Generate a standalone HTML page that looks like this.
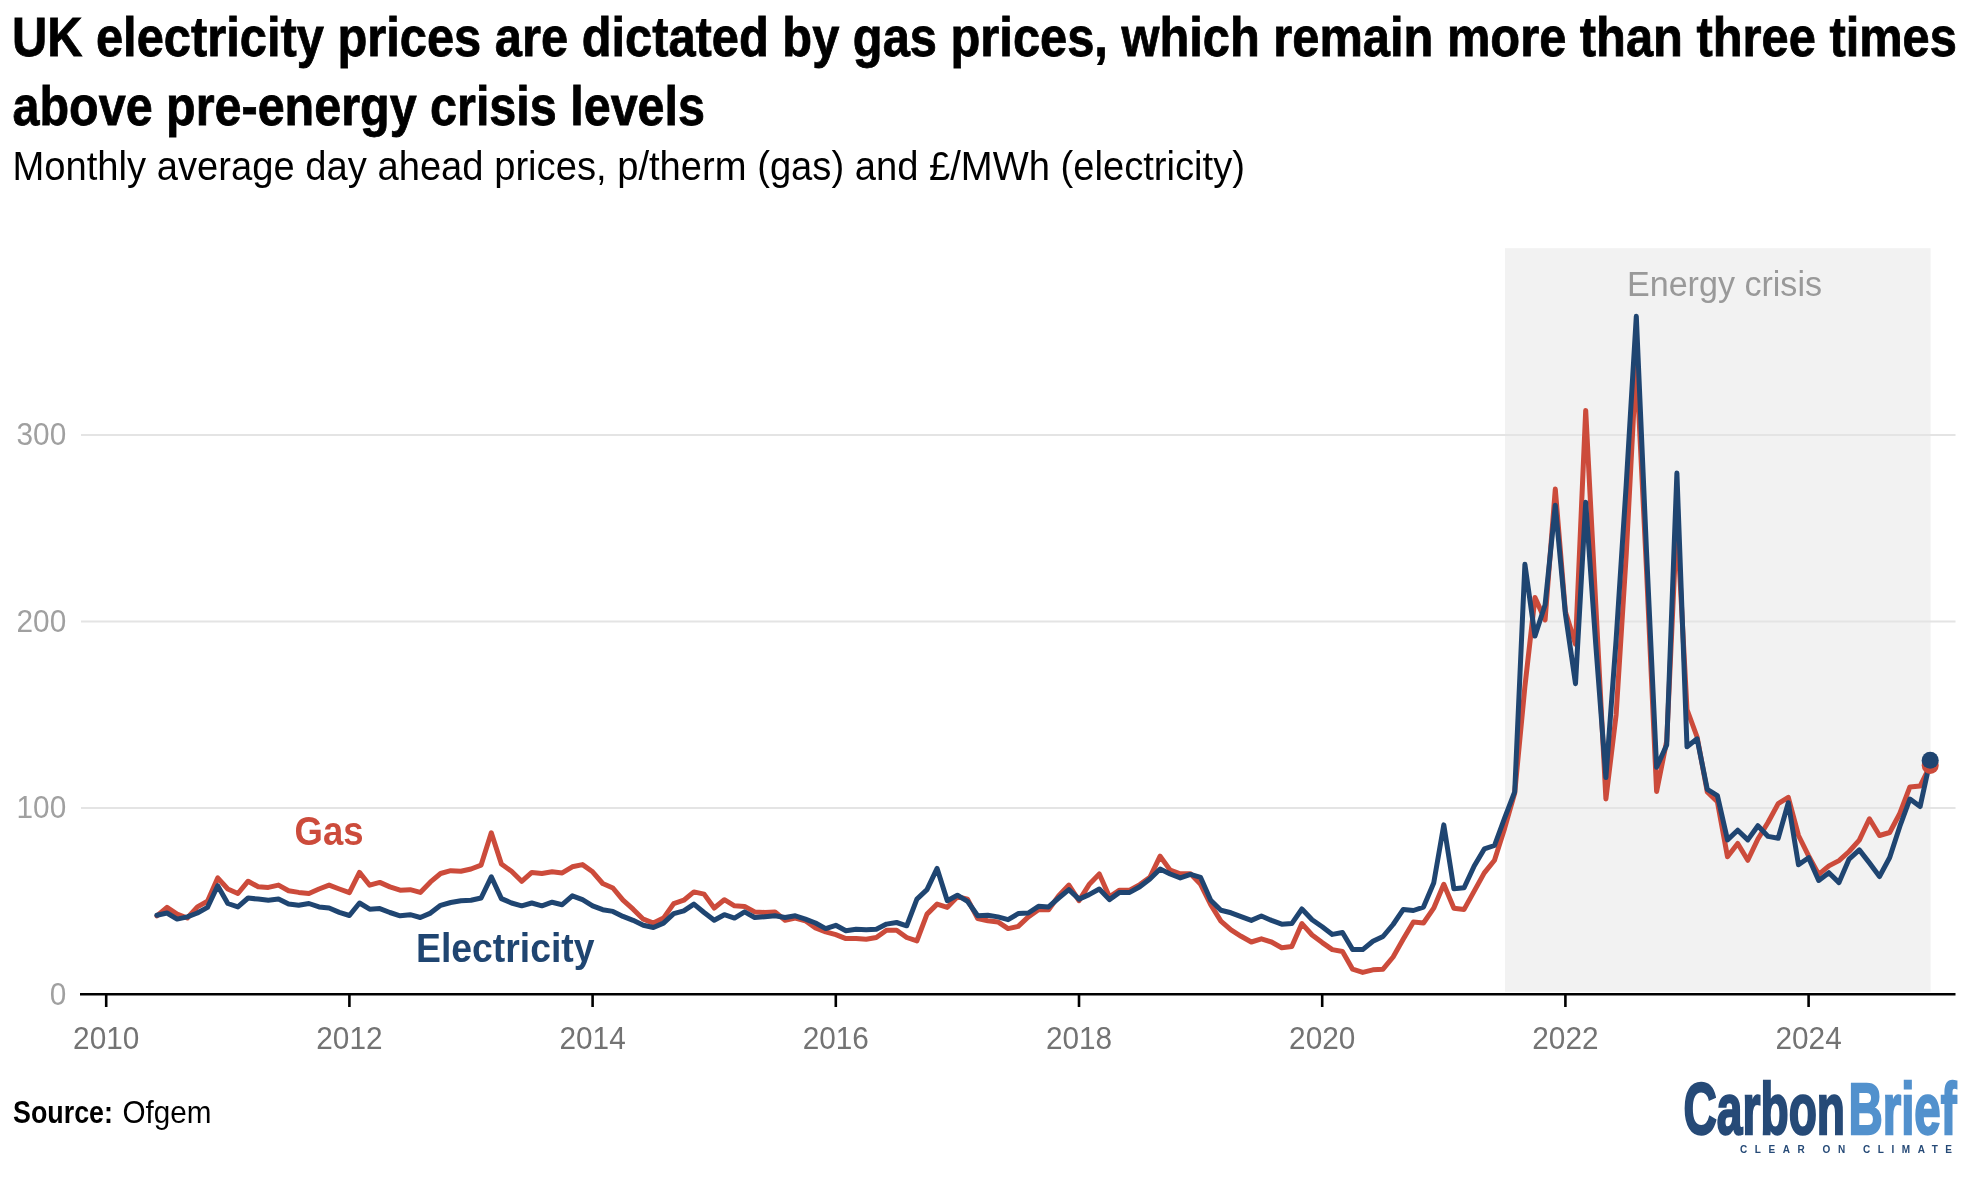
<!DOCTYPE html>
<html><head><meta charset="utf-8"><style>
html,body{margin:0;padding:0;background:#fff;}
body{width:1974px;height:1184px;overflow:hidden;}
svg{display:block;will-change:transform;}
text{font-family:"Liberation Sans", sans-serif;}
</style></head><body>
<svg width="1974" height="1184" viewBox="0 0 1974 1184">
<rect width="1974" height="1184" fill="#fff"/>
<text x="11.9" y="56.2" font-size="55" font-weight="bold" fill="#000" stroke="#000" stroke-width="0.8" textLength="1945" lengthAdjust="spacingAndGlyphs">UK electricity prices are dictated by gas prices, which remain more than three times</text>
<text x="12.5" y="124.5" font-size="55" font-weight="bold" fill="#000" stroke="#000" stroke-width="0.8" textLength="692.5" lengthAdjust="spacingAndGlyphs">above pre-energy crisis levels</text>
<text x="12.5" y="180" font-size="40" fill="#000" textLength="1232.5" lengthAdjust="spacingAndGlyphs">Monthly average day ahead prices, p/therm (gas) and £/MWh (electricity)</text>
<rect x="1505" y="248.2" width="425.6" height="743.6" fill="#f2f2f2"/>
<line x1="81" x2="1955.5" y1="434.9" y2="434.9" stroke="#e4e4e4" stroke-width="2"/>
<line x1="81" x2="1955.5" y1="621.4" y2="621.4" stroke="#e4e4e4" stroke-width="2"/>
<line x1="81" x2="1955.5" y1="807.9" y2="807.9" stroke="#e4e4e4" stroke-width="2"/>

<text x="1627" y="296.4" font-size="35.5" fill="#999" textLength="195" lengthAdjust="spacingAndGlyphs">Energy crisis</text>
<text x="66.2" y="445.2" text-anchor="end" font-size="32" fill="#a0a0a0" transform="translate(66.2 0) scale(0.93 1) translate(-66.2 0)">300</text>
<text x="66.2" y="631.7" text-anchor="end" font-size="32" fill="#a0a0a0" transform="translate(66.2 0) scale(0.93 1) translate(-66.2 0)">200</text>
<text x="66.2" y="818.2" text-anchor="end" font-size="32" fill="#a0a0a0" transform="translate(66.2 0) scale(0.93 1) translate(-66.2 0)">100</text>
<text x="66.2" y="1004.6" text-anchor="end" font-size="32" fill="#a0a0a0" transform="translate(66.2 0) scale(0.93 1) translate(-66.2 0)">0</text>

<path d="M156.9,915.8 L167.0,907.4 L177.1,914.1 L187.3,918.0 L197.4,906.9 L207.5,901.3 L217.7,877.9 L227.8,889.0 L237.9,893.5 L248.1,881.2 L258.2,886.8 L268.3,887.4 L278.5,885.1 L288.6,890.7 L298.7,892.4 L308.9,893.5 L319.0,889.0 L329.1,885.1 L339.3,889.0 L349.4,892.7 L359.5,872.4 L369.7,885.2 L379.8,882.4 L389.9,886.9 L400.1,890.2 L410.2,889.7 L420.3,892.4 L430.5,881.9 L440.6,873.5 L450.7,870.7 L460.9,871.3 L471.0,869.0 L481.1,865.1 L491.3,832.8 L501.4,864.0 L511.5,871.3 L521.7,881.3 L531.8,872.4 L541.9,873.5 L552.1,871.8 L562.2,872.9 L572.3,866.8 L582.5,864.6 L592.6,871.8 L602.7,883.5 L612.9,888.0 L623.0,900.2 L633.1,909.2 L643.3,919.2 L653.4,923.1 L663.5,918.1 L673.7,903.6 L683.8,900.2 L693.9,891.9 L704.1,894.1 L714.2,908.0 L724.3,899.7 L734.5,905.8 L744.6,906.4 L754.7,911.9 L764.9,912.5 L775.0,911.9 L785.1,920.2 L795.3,918.0 L805.4,920.8 L815.5,928.0 L825.7,931.9 L835.8,934.7 L845.9,938.6 L856.1,938.6 L866.2,939.2 L876.3,937.5 L886.5,930.3 L896.6,930.3 L906.7,937.5 L916.9,940.9 L927.0,914.1 L937.1,904.1 L947.3,907.4 L957.4,896.8 L967.5,899.1 L977.7,918.6 L987.8,920.8 L997.9,921.9 L1008.1,928.6 L1018.2,926.4 L1028.3,916.9 L1038.5,909.7 L1048.6,909.7 L1058.7,895.7 L1068.9,885.1 L1079.0,900.7 L1089.1,884.6 L1099.3,874.0 L1109.4,896.8 L1119.5,890.2 L1129.7,890.2 L1139.8,884.6 L1149.9,877.3 L1160.1,856.2 L1170.2,870.1 L1180.3,873.8 L1190.5,873.8 L1200.6,884.3 L1210.7,904.6 L1220.9,921.1 L1231.0,929.9 L1241.1,936.3 L1251.3,942.0 L1261.4,938.8 L1271.5,942.0 L1281.7,947.7 L1291.8,946.4 L1301.9,923.6 L1312.1,935.0 L1322.2,942.6 L1332.3,949.6 L1342.5,951.5 L1352.6,969.2 L1362.7,972.4 L1372.9,969.8 L1383.0,969.2 L1393.1,957.0 L1403.3,939.0 L1413.4,921.9 L1423.5,923.0 L1433.7,908.2 L1443.8,884.3 L1453.9,908.2 L1464.1,909.4 L1474.2,891.1 L1484.3,872.9 L1494.5,860.3 L1504.6,828.4 L1514.7,793.0 L1524.9,686.6 L1535.0,597.6 L1545.1,619.9 L1555.3,489.1 L1565.4,611.8 L1575.5,644.2 L1585.7,410.4 L1595.8,605.0 L1605.9,798.9 L1616.1,715.0 L1626.2,555.0 L1636.3,362.0 L1646.5,570.0 L1656.6,791.5 L1666.7,741.0 L1676.9,520.0 L1687.0,709.5 L1697.1,737.0 L1707.3,792.0 L1717.4,801.8 L1727.5,856.8 L1737.7,843.5 L1747.8,860.3 L1757.9,839.0 L1768.1,822.2 L1778.2,803.6 L1788.3,797.4 L1798.5,835.5 L1808.6,855.9 L1818.7,874.4 L1828.9,865.9 L1839.0,860.6 L1849.1,851.5 L1859.3,840.1 L1869.4,818.8 L1879.5,835.5 L1889.7,832.5 L1899.8,813.5 L1909.9,786.9 L1920.1,786.1 L1930.2,765.6" fill="none" stroke="#cc4b3b" stroke-width="5" stroke-linejoin="round" stroke-linecap="round"/>
<path d="M156.9,915.2 L167.0,913.0 L177.1,919.1 L187.3,916.9 L197.4,913.0 L207.5,907.4 L217.7,885.7 L227.8,903.5 L237.9,906.9 L248.1,898.0 L258.2,899.1 L268.3,900.2 L278.5,899.1 L288.6,904.1 L298.7,905.2 L308.9,903.5 L319.0,906.9 L329.1,908.0 L339.3,912.4 L349.4,915.5 L359.5,903.0 L369.7,909.2 L379.8,908.6 L389.9,912.5 L400.1,915.8 L410.2,914.7 L420.3,917.5 L430.5,913.1 L440.6,905.3 L450.7,902.5 L460.9,900.8 L471.0,900.2 L481.1,898.0 L491.3,876.8 L501.4,898.6 L511.5,903.0 L521.7,905.8 L531.8,903.0 L541.9,905.8 L552.1,902.2 L562.2,904.7 L572.3,895.8 L582.5,899.7 L592.6,905.8 L602.7,909.7 L612.9,911.4 L623.0,916.4 L633.1,920.3 L643.3,925.3 L653.4,927.5 L663.5,923.1 L673.7,913.6 L683.8,910.8 L693.9,904.1 L704.1,912.5 L714.2,920.3 L724.3,914.7 L734.5,918.1 L744.6,911.9 L754.7,917.5 L764.9,916.7 L775.0,915.8 L785.1,917.5 L795.3,915.8 L805.4,919.1 L815.5,923.0 L825.7,928.6 L835.8,925.3 L845.9,930.8 L856.1,929.2 L866.2,929.7 L876.3,929.2 L886.5,924.1 L896.6,922.5 L906.7,925.8 L916.9,899.1 L927.0,889.6 L937.1,868.4 L947.3,900.7 L957.4,895.2 L967.5,901.3 L977.7,915.8 L987.8,915.2 L997.9,916.9 L1008.1,919.7 L1018.2,913.6 L1028.3,913.0 L1038.5,906.3 L1048.6,906.9 L1058.7,898.0 L1068.9,889.6 L1079.0,899.1 L1089.1,894.6 L1099.3,889.0 L1109.4,899.6 L1119.5,892.4 L1129.7,892.4 L1139.8,886.8 L1149.9,879.0 L1160.1,869.0 L1170.2,874.0 L1180.3,877.9 L1190.5,874.4 L1200.6,877.4 L1210.7,900.2 L1220.9,910.3 L1231.0,912.8 L1241.1,916.6 L1251.3,920.4 L1261.4,916.0 L1271.5,920.4 L1281.7,924.2 L1291.8,923.6 L1301.9,909.0 L1312.1,919.8 L1322.2,926.8 L1332.3,934.4 L1342.5,932.5 L1352.6,949.6 L1362.7,949.6 L1372.9,941.3 L1383.0,936.5 L1393.1,924.5 L1403.3,909.4 L1413.4,910.5 L1423.5,907.1 L1433.7,883.1 L1443.8,824.9 L1453.9,888.8 L1464.1,887.7 L1474.2,866.0 L1484.3,848.9 L1494.5,845.5 L1504.6,818.1 L1514.7,791.9 L1524.9,564.3 L1535.0,636.1 L1545.1,604.7 L1555.3,505.3 L1565.4,613.8 L1575.5,683.7 L1585.7,502.3 L1595.8,645.0 L1605.9,777.5 L1616.1,640.0 L1626.2,485.0 L1636.3,316.3 L1646.5,551.0 L1656.6,767.3 L1666.7,745.0 L1676.9,473.0 L1687.0,746.8 L1697.1,738.8 L1707.3,789.4 L1717.4,795.6 L1727.5,839.9 L1737.7,830.2 L1747.8,839.9 L1757.9,825.7 L1768.1,836.4 L1778.2,838.2 L1788.3,802.7 L1798.5,864.8 L1808.6,857.7 L1818.7,880.5 L1828.9,872.7 L1839.0,882.6 L1849.1,859.1 L1859.3,849.9 L1869.4,862.9 L1879.5,876.5 L1889.7,857.5 L1899.8,826.4 L1909.9,799.0 L1920.1,806.6 L1930.2,760.3" fill="none" stroke="#1f4571" stroke-width="5" stroke-linejoin="round" stroke-linecap="round"/>
<circle cx="1930.2" cy="765.6" r="8.5" fill="#cc4b3b"/>
<circle cx="1930.2" cy="760.3" r="8.5" fill="#1f4571"/>
<text x="294.5" y="845.1" font-size="40" font-weight="bold" fill="#cc4b3b" textLength="69" lengthAdjust="spacingAndGlyphs">Gas</text>
<text x="416" y="961.9" font-size="40" font-weight="bold" fill="#1f4571" textLength="178.5" lengthAdjust="spacingAndGlyphs">Electricity</text>
<line x1="80" x2="1955.5" y1="994.3" y2="994.3" stroke="#000" stroke-width="2.6"/>
<line x1="106.2" x2="106.2" y1="994" y2="1007" stroke="#000" stroke-width="2.6"/>
<line x1="349.4" x2="349.4" y1="994" y2="1007" stroke="#000" stroke-width="2.6"/>
<line x1="592.6" x2="592.6" y1="994" y2="1007" stroke="#000" stroke-width="2.6"/>
<line x1="835.8" x2="835.8" y1="994" y2="1007" stroke="#000" stroke-width="2.6"/>
<line x1="1079.0" x2="1079.0" y1="994" y2="1007" stroke="#000" stroke-width="2.6"/>
<line x1="1322.2" x2="1322.2" y1="994" y2="1007" stroke="#000" stroke-width="2.6"/>
<line x1="1565.4" x2="1565.4" y1="994" y2="1007" stroke="#000" stroke-width="2.6"/>
<line x1="1808.6" x2="1808.6" y1="994" y2="1007" stroke="#000" stroke-width="2.6"/>

<text x="106.2" y="1049.3" text-anchor="middle" font-size="32" fill="#737373" transform="translate(106.2 0) scale(0.93 1) translate(-106.2 0)">2010</text>
<text x="349.4" y="1049.3" text-anchor="middle" font-size="32" fill="#737373" transform="translate(349.4 0) scale(0.93 1) translate(-349.4 0)">2012</text>
<text x="592.6" y="1049.3" text-anchor="middle" font-size="32" fill="#737373" transform="translate(592.6 0) scale(0.93 1) translate(-592.6 0)">2014</text>
<text x="835.8" y="1049.3" text-anchor="middle" font-size="32" fill="#737373" transform="translate(835.8 0) scale(0.93 1) translate(-835.8 0)">2016</text>
<text x="1079.0" y="1049.3" text-anchor="middle" font-size="32" fill="#737373" transform="translate(1079.0 0) scale(0.93 1) translate(-1079.0 0)">2018</text>
<text x="1322.2" y="1049.3" text-anchor="middle" font-size="32" fill="#737373" transform="translate(1322.2 0) scale(0.93 1) translate(-1322.2 0)">2020</text>
<text x="1565.4" y="1049.3" text-anchor="middle" font-size="32" fill="#737373" transform="translate(1565.4 0) scale(0.93 1) translate(-1565.4 0)">2022</text>
<text x="1808.6" y="1049.3" text-anchor="middle" font-size="32" fill="#737373" transform="translate(1808.6 0) scale(0.93 1) translate(-1808.6 0)">2024</text>

<text x="13" y="1123.2" font-size="32" font-weight="bold" fill="#000" textLength="100" lengthAdjust="spacingAndGlyphs">Source:</text>
<text x="122.5" y="1123.2" font-size="32" fill="#000" textLength="89" lengthAdjust="spacingAndGlyphs">Ofgem</text>
<text x="1683.5" y="1134.3" font-size="73" font-weight="bold" fill="#264a77" stroke="#264a77" stroke-width="2.4" textLength="161.5" lengthAdjust="spacingAndGlyphs">Carbon</text>
<text x="1848.5" y="1134.3" font-size="73" font-weight="bold" fill="#5291cd" stroke="#5291cd" stroke-width="2.4" textLength="108" lengthAdjust="spacingAndGlyphs">Brief</text>
<text x="1740" y="1152.7" font-size="10" font-weight="bold" fill="#264a77" textLength="212" lengthAdjust="spacing">CLEAR ON CLIMATE</text>
</svg>
</body></html>
